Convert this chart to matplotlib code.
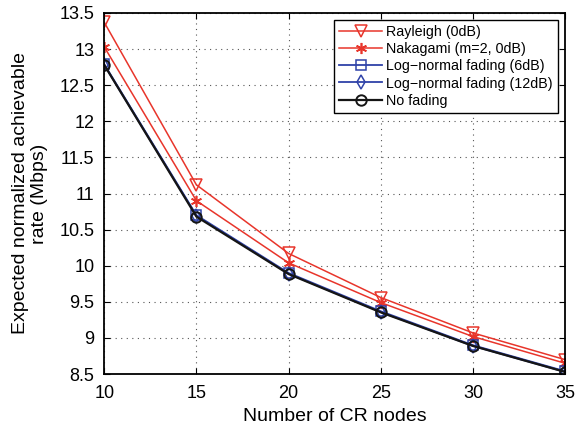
import matplotlib.pyplot as plt

plt.rcParams['font.family'] = ['Liberation Sans', 'DejaVu Sans']

nodes = [10, 15, 20, 25, 30, 35]
rayleigh = [13.37, 11.12, 10.17, 9.56, 9.07, 8.70]
nakagami = [13.03, 10.90, 10.04, 9.49, 9.02, 8.65]
lognorm_6 = [12.79, 10.70, 9.90, 9.37, 8.90, 8.54]
lognorm_12 = [12.78, 10.69, 9.89, 9.36, 8.89, 8.53]
no_fading = [12.78, 10.68, 9.885, 9.355, 8.89, 8.53]

yticks = [8.5, 9, 9.5, 10, 10.5, 11, 11.5, 12, 12.5, 13, 13.5]

red = '#e8352b'
blue = '#2f42a8'
black = '#151515'

fig = plt.figure(figsize=(5.79, 4.30), dpi=100)
ax = fig.add_axes([0.18, 0.13, 0.796, 0.84])

ax.plot(nodes, rayleigh, color=red, lw=1.1, marker='v', ms=9, mfc='none', mec=red, mew=1.1, label='Rayleigh (0dB)')
ax.plot(nodes, nakagami, color=red, lw=1.1, marker=(6, 2, 0), ms=8, mfc=red, mec=red, mew=1.2, label='Nakagami (m=2, 0dB)')
ax.plot(nodes, lognorm_6, color=blue, lw=1.3, marker='s', ms=7, mfc='none', mec=blue, mew=1.1, label='Log\u2212normal fading (6dB)')
ax.plot(nodes, lognorm_12, color=blue, lw=1.3, marker='d', ms=7, mfc='none', mec=blue, mew=1.1, label='Log\u2212normal fading (12dB)')
ax.plot(nodes, no_fading, color=black, lw=1.6, marker='o', ms=7.5, mfc='none', mec=black, mew=1.4, label='No fading')

ax.set_xlim(10, 35)
ax.set_ylim(8.5, 13.5)
ax.set_xticks(nodes)
ax.set_yticks(yticks)
ax.set_yticklabels(['8.5', '9', '9.5', '10', '10.5', '11', '11.5', '12', '12.5', '13', '13.5'])
ax.grid(True, linestyle=(0, (1, 4)), color='#555555', lw=0.8)
ax.tick_params(direction='in', top=True, right=True, labelsize=13, length=4)
ax.tick_params(axis='x', pad=8)
ax.tick_params(axis='y', pad=7)
for s in ax.spines.values():
    s.set_linewidth(1.3)

ax.set_xlabel('Number of CR nodes', fontsize=14, labelpad=4)
ax.set_ylabel('Expected normalized achievable\nrate (Mbps)', fontsize=14, labelpad=8)

leg = ax.legend(loc='upper right', fontsize=10.3, fancybox=False, framealpha=1,
                edgecolor='black', borderpad=0.35, labelspacing=0.22,
                handlelength=3.0, handletextpad=0.3, borderaxespad=0.5)
leg.get_frame().set_linewidth(1.0)

fig.savefig('out.png', dpi=100)
